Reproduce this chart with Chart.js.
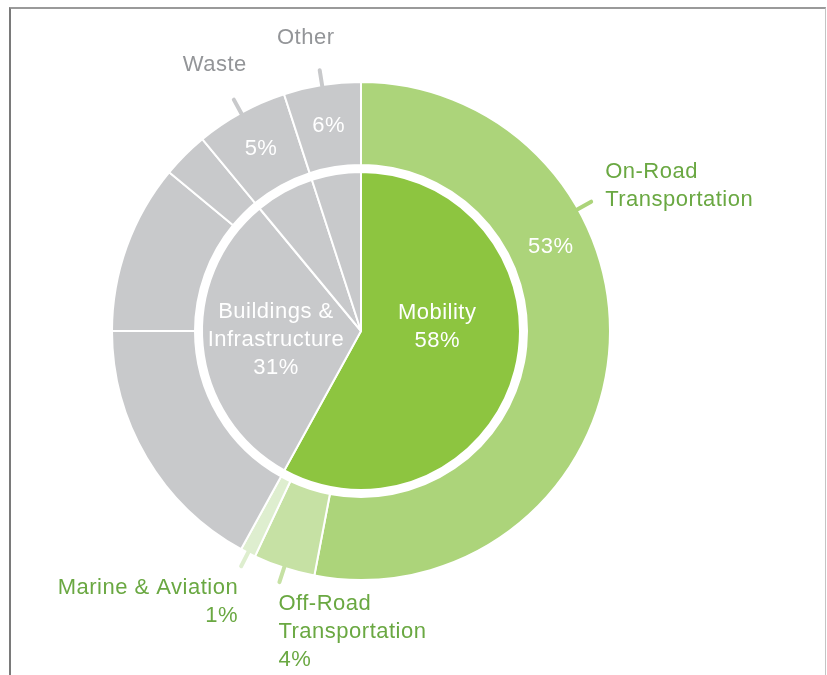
<!DOCTYPE html>
<html>
<head>
<meta charset="utf-8">
<title>Emissions by sector</title>
<script src="https://cdn.jsdelivr.net/npm/chart.js@4.4.1/dist/chart.umd.min.js"></script>
<style>
  html, body { margin: 0; padding: 0; background: #fff; }
  #wrap { position: relative; width: 827px; height: 675px; overflow: hidden; }
  #frame {
    position: absolute; left: 9px; top: 7px; width: 814px; height: 720px;
    border-top: 2px solid #9a9a9a; border-left: 2px solid #7a7a7a; border-right: 1px solid #c4c4c4;
  }
  #chart { position: absolute; left: 0; top: 0; }
</style>
</head>
<body>
<div id="wrap">
  <div id="frame"></div>
  <canvas id="chart" width="827" height="675"></canvas>
</div>
<script>
// 🔹 DATA (outer ring = sub-sectors, inner pie = sectors)
const outerLabels = ["On-Road\nTransportation", "Off-Road\nTransportation", "Marine & Aviation",
                     "Buildings 1", "Buildings 2", "Buildings 3", "Waste", "Other"];
const outerValues = [53, 4, 1, 17, 11, 3, 6, 5];
const outerPct = ["53%", "4%", "1%", "", "", "", "5%", "6%"];

const innerLabels = ["Mobility", "Buildings &\nInfrastructure", "Waste", "Other"];
const innerValues = [58, 31, 6, 5];
const innerPct = ["58%", "31%", "", ""];

// 🔥 COLORS
const GREEN = "#8dc540";
const ON_ROAD = "#acd47a";
const OFF_ROAD = "#c6e1a4";
const MARINE = "#deeecf";
const GRAY = "#c8c9cb";
const GREEN_TEXT = "#6aa842";
const GRAY_TEXT = "#939598";

const outerColors = [ON_ROAD, OFF_ROAD, MARINE, GRAY, GRAY, GRAY, GRAY, GRAY];
const innerColors = [GREEN, GRAY, GRAY, GRAY];

const FONT = "22px 'Liberation Sans', Arial, sans-serif";
const LINE_H = 28;

// which slices get a number inside, and where along the slice
const insideOuter = [
    { i: 0, frac: 0.347 },
    { i: 6, frac: 0.5 },
    { i: 7, frac: 0.5 }
];
const insideInner = [
    { i: 0, frac: 0.415, r: 0.48 },
    { i: 1, frac: 0.494, r: 0.538 }
];

// leader ticks + outside text
const callouts = [
    { i: 0, frac: 0.318, dx: 14, dy: -30, align: "left", pct: false },
    { i: 1, frac: 0.5, dx: -1, dy: 22, align: "left", pct: true },
    { i: 2, frac: 0.5, dx: -3, dy: 22, align: "right", pct: true },
    { i: 6, frac: 0.5, dx: -19, dy: -35, align: "center", pct: false },
    { i: 7, frac: 0.5, dx: -14, dy: -32, align: "center", pct: false }
];

function angleAt(arc, frac) {
    return arc.startAngle + (arc.endAngle - arc.startAngle) * frac;
}

function polar(arc, a, r) {
    return { x: arc.x + Math.cos(a) * r, y: arc.y + Math.sin(a) * r };
}

function drawLines(ctx, lines, x, y, align, color) {
    ctx.fillStyle = color;
    ctx.textAlign = align;
    lines.forEach((t, k) => ctx.fillText(t, x, y + k * LINE_H));
}

// 🔥 LABEL PLUGIN
const labelPlugin = {
    id: "sliceLabels",
    afterDatasetsDraw(chart) {
        const ctx = chart.ctx;
        const outer = chart.getDatasetMeta(0).data;
        const inner = chart.getDatasetMeta(2).data;

        ctx.save();
        ctx.font = FONT;
        ctx.textBaseline = "middle";
        if ("letterSpacing" in ctx) ctx.letterSpacing = "0.5px";

        // numbers inside the outer ring
        insideOuter.forEach(o => {
            const arc = outer[o.i];
            const p = polar(arc, angleAt(arc, o.frac), (arc.innerRadius + arc.outerRadius) / 2);
            drawLines(ctx, [outerPct[o.i]], p.x, p.y, "center", "#fff");
        });

        // sector names inside the pie
        insideInner.forEach(o => {
            const arc = inner[o.i];
            const p = polar(arc, angleAt(arc, o.frac), arc.outerRadius * o.r);
            const lines = innerLabels[o.i].split("\n").concat(innerPct[o.i]);
            const top = p.y - (lines.length - 1) * LINE_H / 2;
            drawLines(ctx, lines, p.x, top, "center", "#fff");
        });

        // ticks and outside names
        callouts.forEach(c => {
            const arc = outer[c.i];
            const a = angleAt(arc, c.frac);
            const p0 = polar(arc, a, arc.outerRadius - 1);
            const p1 = polar(arc, a, arc.outerRadius + 15);

            ctx.strokeStyle = outerColors[c.i];
            ctx.lineWidth = 4;
            ctx.lineCap = "round";
            ctx.beginPath();
            ctx.moveTo(p0.x, p0.y);
            ctx.lineTo(p1.x, p1.y);
            ctx.stroke();

            let lines = outerLabels[c.i].split("\n");
            if (c.pct) lines = lines.concat(outerPct[c.i]);
            const color = c.i < 3 ? GREEN_TEXT : GRAY_TEXT;
            drawLines(ctx, lines, p1.x + c.dx, p1.y + c.dy, c.align, color);
        });

        ctx.restore();
    }
};

// 🔁 RUN
new Chart(document.getElementById("chart"), {
    type: "doughnut",
    data: {
        labels: outerLabels,
        datasets: [
            { data: outerValues, backgroundColor: outerColors, borderColor: "#fff", borderWidth: 2, weight: 83 },
            { data: [1], backgroundColor: "rgba(0,0,0,0)", borderWidth: 0, weight: 7 },
            { data: innerValues, backgroundColor: innerColors, borderColor: "#fff", borderWidth: 2, weight: 159 }
        ]
    },
    options: {
        responsive: false,
        animation: false,
        cutout: 0,
        layout: { padding: { left: 111, top: 81, right: 216, bottom: 94 } },
        plugins: { legend: { display: false }, tooltip: { enabled: false } }
    },
    plugins: [labelPlugin]
});
</script>
</body>
</html>
